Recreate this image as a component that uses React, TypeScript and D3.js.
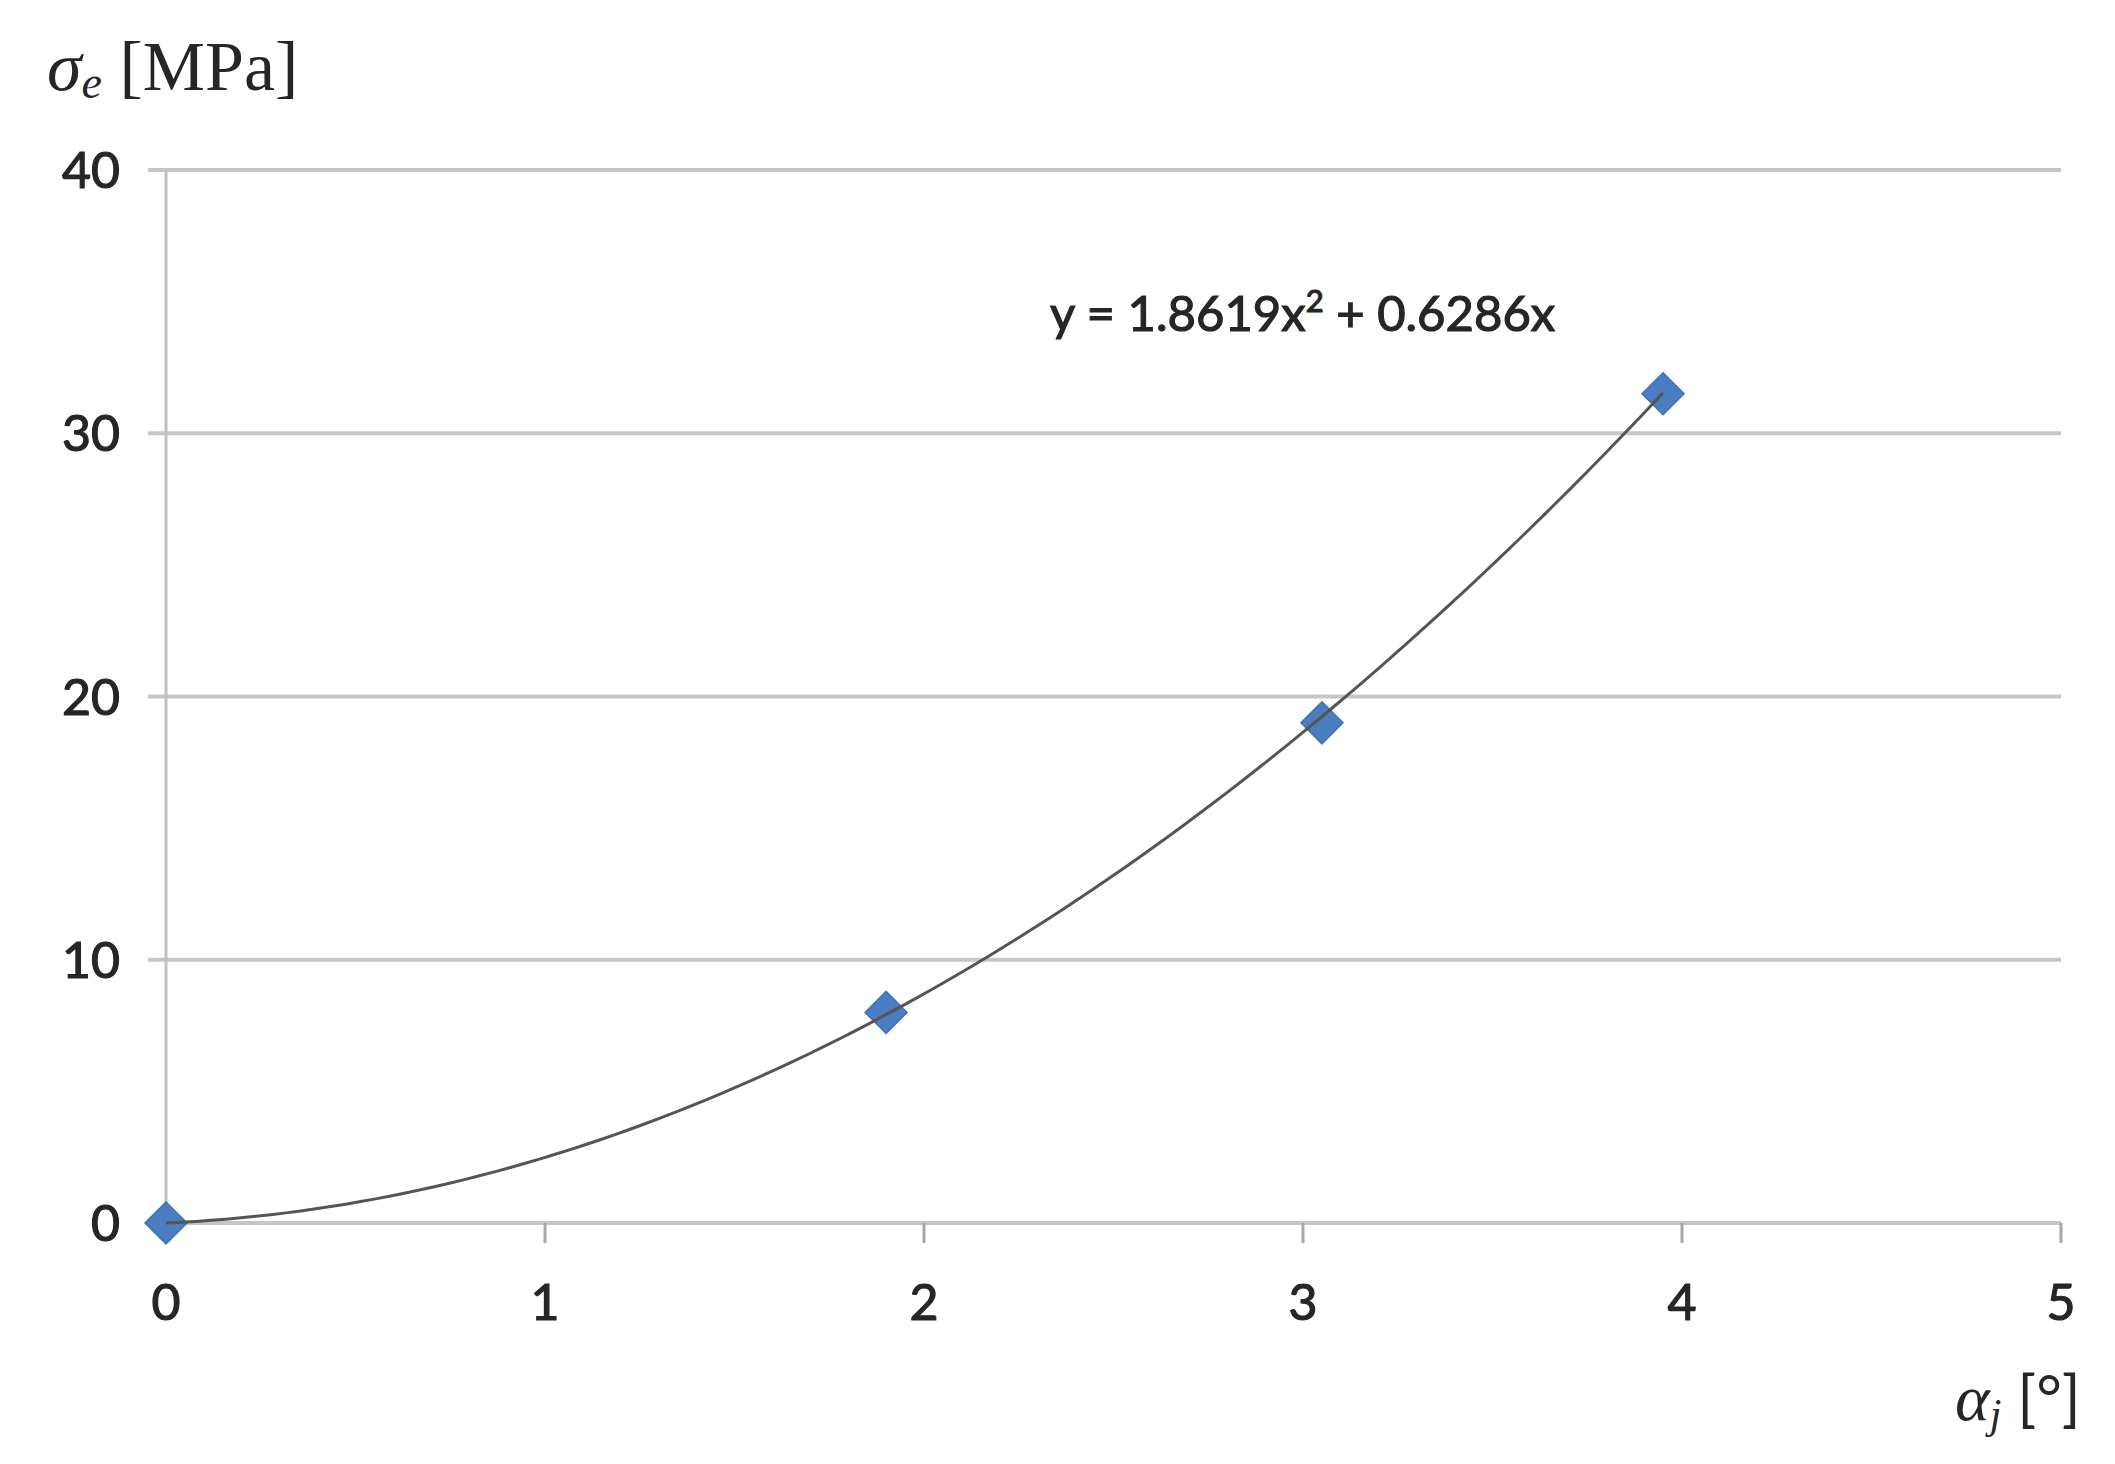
import React from 'react';
import * as d3 from 'd3';

// measured points (alpha_j in degrees, sigma_e in MPa)
const alphaValues = [0, 1.9, 3.05, 3.95];
const sigmaValues = [0, 8, 19, 31.5];

const xTicks = [0, 1, 2, 3, 4, 5];
const yTicks = [0, 10, 20, 30, 40];

// trendline coefficients as printed on the chart
const coefA = 1.8619;
const coefB = 0.6286;

const W = 2115;
const H = 1464;
const left = 166;
const right = 2061;
const top = 170;
const bottom = 1223;

const sans = "Lato, 'Open Sans', sans-serif";
const serif = "'Liberation Serif', 'DejaVu Serif', serif";
const ink = '#262626';

const App = () => {
  const x = d3.scaleLinear().domain([0, 5]).range([left, right]);
  const y = d3.scaleLinear().domain([0, 40]).range([bottom, top]);

  const xMax = alphaValues[alphaValues.length - 1];
  const trend = d3.range(0, 101).map(i => {
    const a = (xMax * i) / 100;
    return [a, coefA * a * a + coefB * a] as [number, number];
  });
  const line = d3
    .line<[number, number]>()
    .x(d => x(d[0]))
    .y(d => y(d[1]))
    .curve(d3.curveMonotoneX);

  const points = alphaValues.map((a, i) => ({ a, s: sigmaValues[i] }));
  const dm = 21;

  return (
    <div style={{ position: 'absolute', left: 0, top: 0 }}>
      <svg width={W} height={H} style={{ display: 'block', background: '#fff' }}>
        {/* gridlines */}
        {yTicks.map(t => (
          <line
            key={'g' + t}
            x1={left - 18}
            x2={right}
            y1={y(t)}
            y2={y(t)}
            stroke="#c6c6c6"
            strokeWidth={4}
          />
        ))}
        {/* y axis */}
        <line x1={left} x2={left} y1={top} y2={bottom} stroke="#c0c0c0" strokeWidth={3} />
        {/* x ticks */}
        {xTicks.map(t => (
          <line
            key={'xt' + t}
            x1={x(t)}
            x2={x(t)}
            y1={bottom}
            y2={bottom + 20}
            stroke="#a6a6a6"
            strokeWidth={3}
          />
        ))}
        {/* tick labels */}
        {yTicks.map(t => (
          <text
            key={'yl' + t}
            x={120}
            y={y(t)}
            dy="0.36em"
            textAnchor="end"
            fontFamily={sans}
            fontSize={50}
            fill={ink}
            stroke={ink}
            strokeWidth={1.2}
          >
            {t}
          </text>
        ))}
        {xTicks.map(t => (
          <text
            key={'xl' + t}
            x={x(t)}
            y={1302}
            dy="0.36em"
            textAnchor="middle"
            fontFamily={sans}
            fontSize={50}
            fill={ink}
            stroke={ink}
            strokeWidth={1.2}
          >
            {t}
          </text>
        ))}
        {/* markers */}
        {points.map((p, i) => (
          <path
            key={'p' + i}
            d={`M${x(p.a)},${y(p.s) - dm}L${x(p.a) + dm},${y(p.s)}L${x(p.a)},${y(p.s) + dm}L${x(p.a) - dm},${y(p.s)}Z`}
            fill="#4a7ec0"
            stroke="#3f72b3"
            strokeWidth={1.5}
          />
        ))}
        {/* trendline, drawn over the markers */}
        <path d={line(trend) || ''} fill="none" stroke="#555" strokeWidth={3} />
        {/* equation */}
        <text x={1050} y={331} fontFamily={sans} fontSize={49} fill={ink} stroke={ink} strokeWidth={1.2}>
          <tspan>y = 1.8619x</tspan>
          <tspan dy={-19} fontSize={31}>2</tspan>
          <tspan dy={19}> + 0.6286x</tspan>
        </text>
        {/* y title */}
        <text x={47} y={90} fontFamily={serif} fontSize={70} fill={ink}>
          <tspan fontStyle="italic">σ</tspan>
          <tspan fontStyle="italic" fontSize={46} dy={8}>e</tspan>
          <tspan dy={-8}> [MPa]</tspan>
        </text>
        {/* x title */}
        <text x={1955} y={1420} fontFamily={serif} fontSize={66} fill={ink}>
          <tspan fontStyle="italic">α</tspan>
          <tspan fontStyle="italic" fontSize={42} dy={8}>j</tspan>
          <tspan dy={-8} fontFamily={sans} fontSize={62}> [°]</tspan>
        </text>
      </svg>
    </div>
  );
};

export default App;
